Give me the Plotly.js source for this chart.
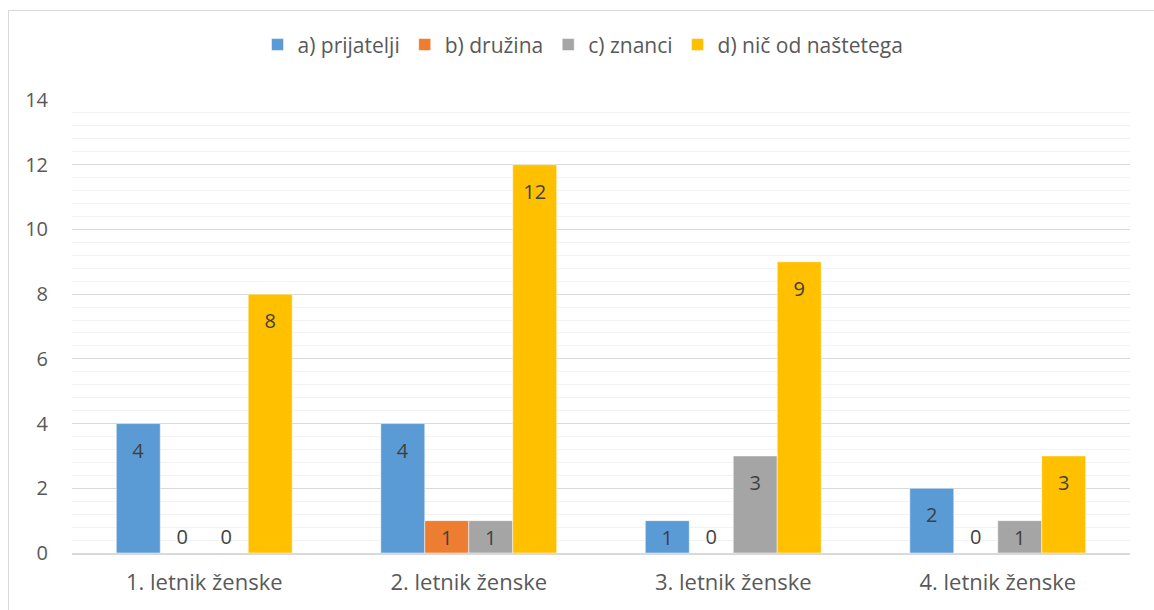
<!DOCTYPE html>
<html><head><meta charset="utf-8">
<script src="https://cdn.plot.ly/plotly-3.0.1.min.js"></script>
<style>html,body{margin:0;padding:0;background:#fff;}#chart{width:1154px;height:610px;}
#frame{position:absolute;left:8px;top:10px;width:1160px;height:620px;border:1px solid #d9d9d9;pointer-events:none;}</style>
</head><body>
<div id="chart"></div><div id="frame"></div>
<script>
const categories = ["1. letnik ženske", "2. letnik ženske", "3. letnik ženske", "4. letnik ženske"];
const seriesNames = ["a) prijatelji", "b) družina", "c) znanci", "d) nič od naštetega"];
const prijatelji = [4, 4, 1, 2];
const druzina = [0, 1, 0, 0];
const znanci = [0, 1, 3, 1];
const nicOdNastetega = [8, 12, 9, 3];
const yTicks = [0, 2, 4, 6, 8, 10, 12, 14];
const colors = ["#5B9BD5", "#ED7D31", "#A5A5A5", "#FFC000"];

const FONT = "'Open Sans', Lato, sans-serif";
const allSeries = [prijatelji, druzina, znanci, nicOdNastetega];
const traces = allSeries.map((vals, i) => ({
  type: "bar",
  name: seriesNames[i],
  x: categories,
  y: vals,
  // taller bars: label sits lower, like Excel's inside-end padding
  text: vals.map(v => v >= 2 ? "<span style='font-size:5px'>\u00A0</span><br>" + v : String(v)),
  textposition: vals.map(v => v === 0 ? "outside" : "inside"),
  insidetextanchor: "end",
  textangle: 0,
  textfont: {family: FONT, size: 20, color: "#404040"},
  outsidetextfont: {family: FONT, size: 20, color: "#404040"},
  insidetextfont: {family: FONT, size: 20, color: "#404040"},
  cliponaxis: false,
  constraintext: "none",
  marker: {color: colors[i], line: {color: "#ffffff", width: 0.5}},
  hoverinfo: "x+y+name"
}));

const layout = {
  width: 1154, height: 610,
  margin: {l: 72, r: 24, t: 100, b: 57},
  paper_bgcolor: "#ffffff", plot_bgcolor: "#ffffff",
  font: {family: FONT, color: "#595959", size: 20},
  barmode: "group",
  bargap: 0.335,
  bargroupgap: 0,
  showlegend: true,
  legend: {orientation: "h", x: 0.483, xanchor: "center", y: 0.96, yref: "container", yanchor: "top",
           xref: "paper", font: {size: 21, color: "#595959"}, traceorder: "normal"},
  xaxis: {type: "category", showgrid: false, zeroline: false, showline: true, linecolor: "#d9d9d9", linewidth: 1.5,
          ticks: "", tickfont: {size: 22, color: "#595959"}, ticklabelstandoff: 9},
  yaxis: {range: [0, 14], tickvals: yTicks, ticktext: yTicks.map(String), showgrid: true, gridcolor: "#d9d9d9",
          gridwidth: 1, zeroline: false, showline: false, ticks: "", tickfont: {size: 20, color: "#595959"},
          ticklabelstandoff: 23,
          minor: {dtick: 0.4, tick0: 0, showgrid: true, gridcolor: "#f2f2f2", gridwidth: 1, ticks: ""}}
};
Plotly.newPlot("chart", traces, layout, {displayModeBar: false, staticPlot: true});
</script>
</body></html>
